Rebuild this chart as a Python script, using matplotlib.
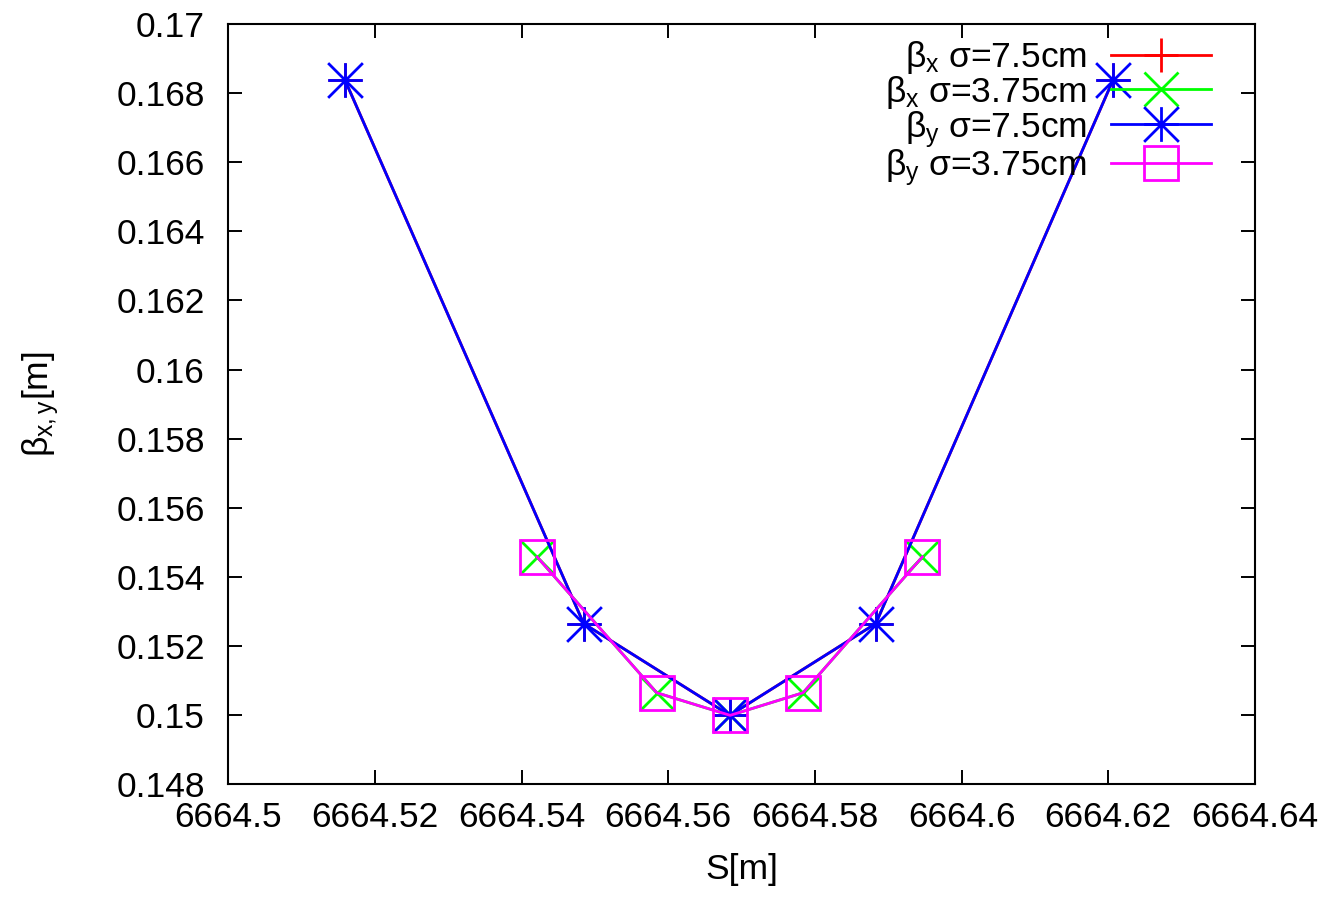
import matplotlib
matplotlib.use("Agg")
import matplotlib.pyplot as plt
from matplotlib.path import Path

plt.rcParams['font.family'] = ['Liberation Sans', 'DejaVu Sans']
plt.rcParams['mathtext.fontset'] = 'custom'
plt.rcParams['mathtext.rm'] = 'Liberation Sans'
plt.rcParams['mathtext.it'] = 'Liberation Sans'
plt.rcParams['mathtext.bf'] = 'Liberation Sans:bold'

# ---- data ----
s_75 = [6664.51591, 6664.54845, 6664.56840, 6664.58830, 6664.62065]
betax_75 = [0.16838, 0.152652, 0.149995, 0.152652, 0.16838]
betay_75 = [0.16838, 0.152652, 0.149995, 0.152652, 0.16838]

s_375 = [6664.54211, 6664.55842, 6664.56843, 6664.57838, 6664.59464]
betax_375 = [0.15458, 0.150649, 0.149995, 0.150649, 0.15458]
betay_375 = [0.15458, 0.150649, 0.149995, 0.150649, 0.15458]

labels = [r'$\beta_\mathrm{x}$ σ=7.5cm', r'$\beta_\mathrm{x}$ σ=3.75cm',
          r'$\beta_\mathrm{y}$ σ=7.5cm', r'$\beta_\mathrm{y}$ σ=3.75cm']

xticks = [6664.50, 6664.52, 6664.54, 6664.56, 6664.58, 6664.60, 6664.62, 6664.64]
xticklabels = ['6664.5', '6664.52', '6664.54', '6664.56', '6664.58', '6664.6', '6664.62', '6664.64']
yticks = [0.148, 0.150, 0.152, 0.154, 0.156, 0.158, 0.160, 0.162, 0.164, 0.166, 0.168, 0.170]
yticklabels = ['0.148', '0.15', '0.152', '0.154', '0.156', '0.158', '0.16', '0.162',
               '0.164', '0.166', '0.168', '0.17']

# gnuplot-like star marker (+ and x combined)
star = Path([(-1, 0), (1, 0), (0, -1), (0, 1), (-1, -1), (1, 1), (-1, 1), (1, -1)],
            [Path.MOVETO, Path.LINETO] * 4)

fs = 25.5
fig = plt.figure(figsize=(13.28, 8.99), dpi=100)
ax = fig.add_axes([0.1719, 0.1276, 0.7731, 0.8457])

lw = 2.0
ms = 25
ax.plot(s_75, betax_75, color='#ff0000', lw=lw, marker='+', ms=ms, mew=lw, label=labels[0])
ax.plot(s_375, betax_375, color='#00ff00', lw=lw, marker='x', ms=ms, mew=lw, label=labels[1])
ax.plot(s_75, betay_75, color='#0000ff', lw=lw, marker=star, ms=ms, mew=lw, mfc='none',
        label=labels[2])
ax.plot(s_375, betay_375, color='#ff00ff', lw=lw, marker='s', ms=ms, mew=lw, mfc='none',
        label=labels[3])

ax.set_xlim(6664.5, 6664.64)
ax.set_ylim(0.148, 0.170)
ax.set_xticks(xticks)
ax.set_xticklabels(xticklabels)
ax.set_yticks(yticks)
ax.set_yticklabels(yticklabels)
ax.tick_params(direction='in', length=10, width=1.4, top=True, right=True,
               labelsize=fs, colors='black')
ax.tick_params(axis='x', pad=12)
ax.tick_params(axis='y', pad=17)
for sp in ax.spines.values():
    sp.set_linewidth(1.5)

ax.set_xlabel('S[m]', fontsize=fs, labelpad=14)
ax.set_ylabel(r'$\beta_\mathrm{x,y}$[m]', fontsize=fs, labelpad=40)

leg = ax.legend(loc='upper right', frameon=False, markerfirst=False, numpoints=1,
                fontsize=fs, handlelength=2.82, handletextpad=0.68, borderpad=0.0,
                borderaxespad=0.0, labelspacing=-0.06,
                bbox_to_anchor=(1 - 44 / 1027, 1 - 15 / 760))
for col in leg._legend_handle_box.get_children():
    col.align = 'right'

fig.savefig('out.png', dpi=100)
